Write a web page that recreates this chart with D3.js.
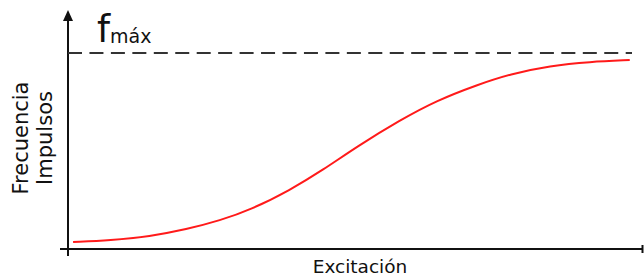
<!DOCTYPE html>
<html>
<head>
<meta charset="utf-8">
<script src="https://cdn.jsdelivr.net/npm/d3@7"></script>
<style>
  body { margin: 0; background: #fff; }
  svg { display: block; }
  text { font-family: "DejaVu Sans", Verdana, sans-serif; fill: #111; }
</style>
</head>
<body>
<div id="chart"></div>
<script>
// excitation (0-100) vs frequency as a fraction of f max
const excitacion = [0.9, 7.5, 14.5, 21.0, 27.0, 32.3, 39.4, 45.2, 51.2, 58.9, 65.4, 72.5, 78.4, 85.5, 92.5, 99.6];
const frecuencia = [0.036, 0.044, 0.064, 0.100, 0.146, 0.199, 0.301, 0.403, 0.522, 0.658, 0.758, 0.837, 0.893, 0.935, 0.955, 0.964];
const fMax = 1;

const yLabelLines = ["Frecuencia", "Impulsos"];
const xLabel = "Excitación";

const width = 644;
const height = 278;

const x = d3.scaleLinear().domain([0, 100]).range([68, 632]);
const y = d3.scaleLinear().domain([0, fMax]).range([249, 53]);

const svg = d3.select("#chart").append("svg")
  .attr("width", width)
  .attr("height", height);

// axes
svg.append("line")
  .attr("x1", x(0)).attr("x2", x(0))
  .attr("y1", y(0) + 7).attr("y2", 18)
  .attr("stroke", "#111").attr("stroke-width", 2);

svg.append("path")
  .attr("d", `M${x(0)},10 L${x(0) - 5},21 L${x(0) + 5},21 Z`)
  .attr("fill", "#111");

svg.append("line")
  .attr("x1", x(0) - 8).attr("x2", 643)
  .attr("y1", y(0)).attr("y2", y(0))
  .attr("stroke", "#111").attr("stroke-width", 2);

svg.append("line")
  .attr("x1", 642.5).attr("x2", 642.5)
  .attr("y1", y(0) - 4).attr("y2", y(0) + 4)
  .attr("stroke", "#111").attr("stroke-width", 2);

// f max line
svg.append("line")
  .attr("x1", x(0)).attr("x2", x(100))
  .attr("y1", y(fMax)).attr("y2", y(fMax))
  .attr("stroke", "#333").attr("stroke-width", 2)
  .attr("stroke-dasharray", "14,7.45");

const fLabel = svg.append("text")
  .attr("x", 97).attr("y", 42);
fLabel.append("tspan").attr("font-size", 37).text("f");
fLabel.append("tspan").attr("font-size", 19).attr("dy", 1).text("máx");

// curve
const pts = excitacion.map((d, i) => [d, frecuencia[i]]);
const line = d3.line()
  .x(d => x(d[0]))
  .y(d => y(d[1]))
  .curve(d3.curveBasis);

svg.append("path")
  .datum(pts)
  .attr("d", line)
  .attr("fill", "none")
  .attr("stroke", "#ff1a1a")
  .attr("stroke-width", 2);

// labels
svg.append("text")
  .attr("x", 360).attr("y", 273)
  .attr("text-anchor", "middle")
  .attr("font-size", 18.5)
  .text(xLabel);

svg.append("g")
  .attr("transform", "translate(0,138) rotate(-90)")
  .selectAll("text")
  .data(yLabelLines)
  .join("text")
    .attr("x", 0)
    .attr("y", (d, i) => 28 + i * 24)
    .attr("text-anchor", "middle")
    .attr("font-size", 21)
    .text(d => d);
</script>
</body>
</html>
